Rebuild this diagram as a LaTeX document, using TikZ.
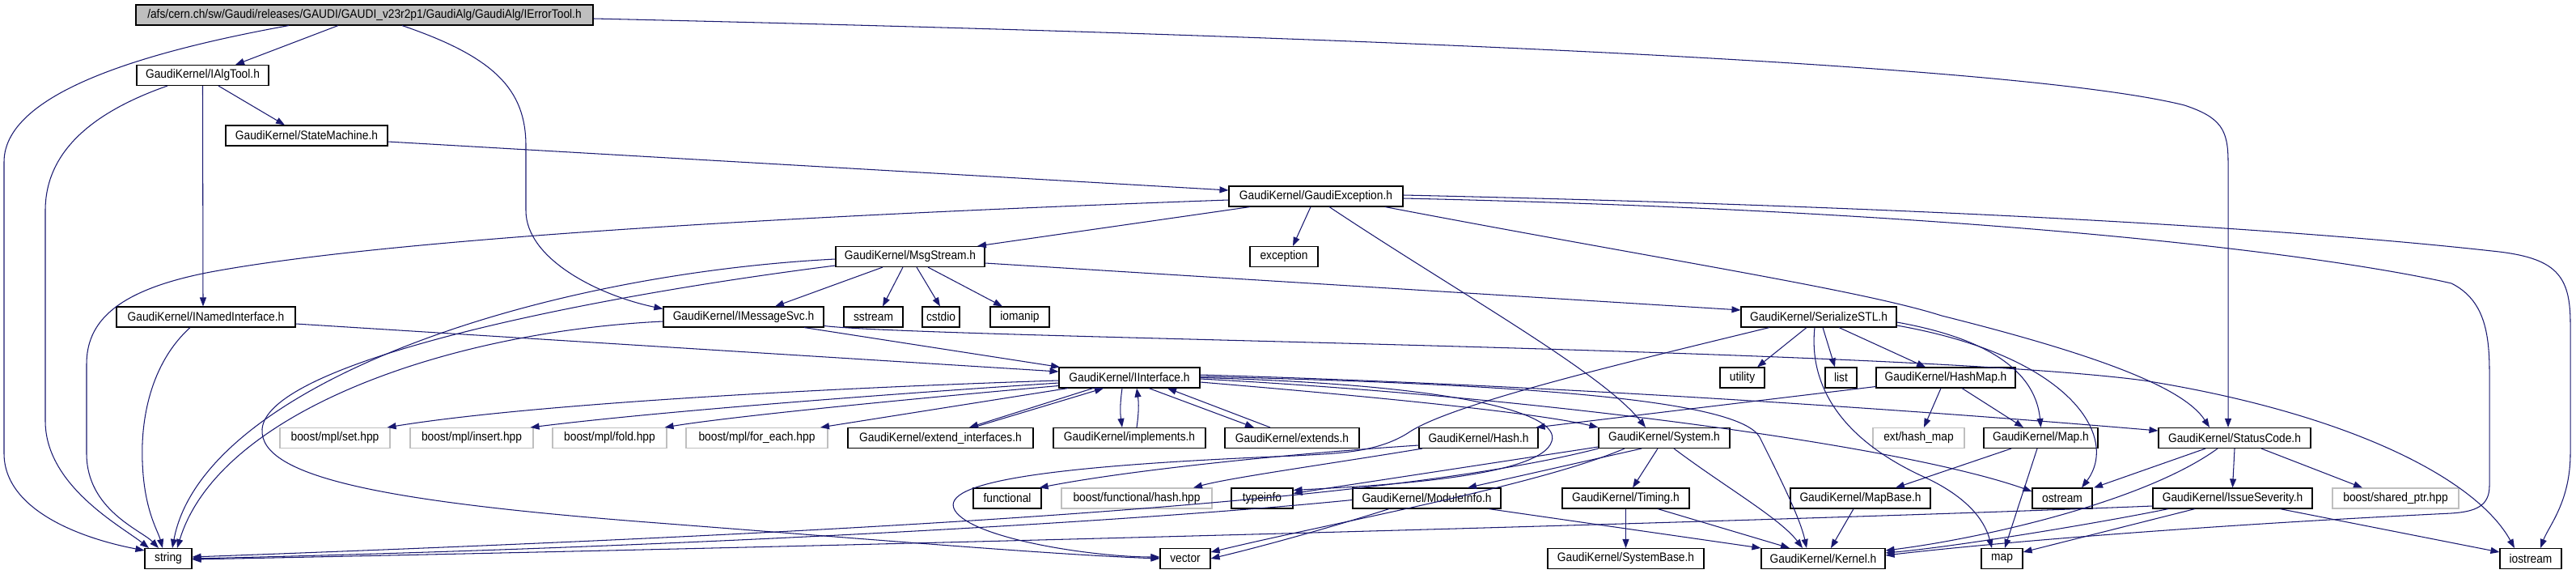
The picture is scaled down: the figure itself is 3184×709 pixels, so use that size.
\documentclass[tikz,border=0pt]{standalone}
\usepackage{fontspec}
\setmainfont{Liberation Sans}[FakeStretch=0.9]
\usetikzlibrary{arrows.meta}
\definecolor{edgeblue}{HTML}{191970}
\definecolor{lgray}{HTML}{BFBFBF}
\begin{document}
\begin{tikzpicture}[x=1pt,y=-1pt,
  nb/.style={draw=black, fill=white, line width=1.1pt, minimum height=25pt, inner sep=0pt, font=\fontsize{15.3}{18}\selectfont},
  gb/.style={nb, draw=lgray},
  rt/.style={nb, fill=lgray},
  edge/.style={draw=edgeblue, line width=1.05pt, -{Triangle[length=11pt,width=8pt]}}]
\useasboundingbox (0,0) rectangle (3184,709);
\fill[white] (0,0) rectangle (3184,709);
% nodes
\node[rt, minimum width=565pt] (root) at (450.5,18.5) {/afs/cern.ch/sw/Gaudi/releases/GAUDI/GAUDI\_v23r2p1/GaudiAlg/GaudiAlg/IErrorTool.h};
\node[nb, minimum width=163pt] (ialgtool) at (250.5,93) {GaudiKernel/IAlgTool.h};
\node[nb, minimum width=200pt] (statemachine) at (379,167.5) {GaudiKernel/StateMachine.h};
\node[nb, minimum width=215pt] (gexc) at (1626.5,242.5) {GaudiKernel/GaudiException.h};
\node[nb, minimum width=84pt] (exception) at (1587,317) {exception};
\node[nb, minimum width=184pt] (msgstream) at (1125,317) {GaudiKernel/MsgStream.h};
\node[nb, minimum width=221pt] (inamed) at (254.5,391.5) {GaudiKernel/INamedInterface.h};
\node[nb, minimum width=198pt] (imsgsvc) at (919,391.5) {GaudiKernel/IMessageSvc.h};
\node[nb, minimum width=73pt] (sstream) at (1079.5,391.5) {sstream};
\node[nb, minimum width=46pt] (cstdio) at (1163,391.5) {cstdio};
\node[nb, minimum width=73pt] (iomanip) at (1260.5,391.5) {iomanip};
\node[nb, minimum width=192pt] (serial) at (2248,391.5) {GaudiKernel/SerializeSTL.h};
\node[nb, minimum width=174pt] (iinterface) at (1396,466.5) {GaudiKernel/IInterface.h};
\node[nb, minimum width=55pt] (utility) at (2153.5,466.5) {utility};
\node[nb, minimum width=39pt] (list) at (2275.5,466.5) {list};
\node[nb, minimum width=172pt] (hashmap) at (2405,466.5) {GaudiKernel/HashMap.h};
\node[gb, minimum width=136pt] (mplset) at (414,541) {boost/mpl/set.hpp};
\node[gb, minimum width=152pt] (mplinsert) at (583,541) {boost/mpl/insert.hpp};
\node[gb, minimum width=141pt] (mplfold) at (753.5,541) {boost/mpl/fold.hpp};
\node[gb, minimum width=175pt] (mplforeach) at (935.5,541) {boost/mpl/for\_each.hpp};
\node[nb, minimum width=229pt] (extendif) at (1162.5,541) {GaudiKernel/extend\_interfaces.h};
\node[nb, minimum width=188pt] (implements) at (1396,541) {GaudiKernel/implements.h};
\node[nb, minimum width=166pt] (extends) at (1597,541) {GaudiKernel/extends.h};
\node[nb, minimum width=147pt] (hash) at (1827.5,541) {GaudiKernel/Hash.h};
\node[nb, minimum width=162pt] (system) at (2057,541) {GaudiKernel/System.h};
\node[gb, minimum width=113pt] (exthashmap) at (2371.5,541) {ext/hash\_map};
\node[nb, minimum width=141pt] (maph) at (2522.5,541) {GaudiKernel/Map.h};
\node[nb, minimum width=188pt] (statuscode) at (2762,541) {GaudiKernel/StatusCode.h};
\node[nb, minimum width=84pt] (functional) at (1245,615.5) {functional};
\node[gb, minimum width=186pt] (bfhash) at (1405,615.5) {boost/functional/hash.hpp};
\node[nb, minimum width=76pt] (typeinfo) at (1560,615.5) {typeinfo};
\node[nb, minimum width=183pt] (moduleinfo) at (1763.5,615.5) {GaudiKernel/ModuleInfo.h};
\node[nb, minimum width=157pt] (timing) at (2009.5,615.5) {GaudiKernel/Timing.h};
\node[nb, minimum width=173pt] (mapbase) at (2299.5,615.5) {GaudiKernel/MapBase.h};
\node[nb, minimum width=74pt] (ostream) at (2549,615.5) {ostream};
\node[nb, minimum width=197pt] (issue) at (2759.5,615.5) {GaudiKernel/IssueSeverity.h};
\node[gb, minimum width=156pt] (sharedptr) at (2961,615.5) {boost/shared\_ptr.hpp};
\node[nb, minimum width=58pt] (string) at (208,690) {string};
\node[nb, minimum width=62pt] (vector) at (1465,690) {vector};
\node[nb, minimum width=193pt] (systembase) at (2009.5,690) {GaudiKernel/SystemBase.h};
\node[nb, minimum width=153pt] (kernel) at (2253.5,690) {GaudiKernel/Kernel.h};
\node[nb, minimum width=51pt] (map) at (2474.5,690) {map};
\node[nb, minimum width=76pt] (iostream) at (3128,690) {iostream};
% edges from root
\draw[edge] ([xshift=-93.5pt]root.south) .. controls (200,60) and (5,110) .. (5,200) -- (5,560) .. controls (5,630) and (100,665) .. ([yshift=-3pt]string.north west);
\draw[edge] ([xshift=-32.5pt]root.south) -- ([xshift=40.5pt]ialgtool.north);
\draw[edge] ([xshift=46.5pt]root.south) .. controls (610,70) and (650,110) .. (650,180) -- (650,260) .. controls (650,320) and (740,365) .. ([yshift=10pt]imsgsvc.west);
\draw[edge] ([yshift=-4.5pt]root.east) .. controls (1700,45) and (2500,80) .. (2700,130) .. controls (2745,145) and (2754,160) .. (2754,200) -- ([xshift=-8pt]statuscode.north);
% IAlgTool
\draw[edge] ([xshift=-43.5pt]ialgtool.south) .. controls (110,140) and (56,190) .. (56,260) -- (56,520) .. controls (56,600) and (150,650) .. ([xshift=-24pt]string.north);
\draw[edge] (ialgtool.south) -- ([xshift=-3.5pt]inamed.north);
\draw[edge] ([xshift=19.5pt]ialgtool.south) -- ([xshift=-27pt]statemachine.north);
% StateMachine
\draw[edge] ([yshift=-7.5pt]statemachine.east) -- ([yshift=7.5pt]gexc.west);
% GaudiException
\draw[edge] ([yshift=-4.5pt]gexc.west) .. controls (1100,262) and (500,290) .. (255,337) .. controls (140,360) and (107,400) .. (107,450) -- (107,560) .. controls (107,630) and (175,655) .. ([xshift=-12pt]string.north);
\draw[edge] ([xshift=-81.5pt]gexc.south) -- ([xshift=83pt]msgstream.north);
\draw[edge] ([xshift=-6.5pt]gexc.south) -- ([xshift=11pt]exception.north);
\draw[edge] ([xshift=16.5pt]gexc.south) .. controls (1800,360) and (1980,460) .. ([xshift=-23pt]system.north);
\draw[edge] ([xshift=85.5pt]gexc.south) .. controls (2050,320) and (2300,358) .. (2400,390) .. controls (2600,440) and (2700,480) .. ([xshift=-31pt]statuscode.north);
\draw[edge] ([yshift=1.5pt]gexc.east) .. controls (2500,258) and (2900,290) .. (3080,310) .. controls (3160,318) and (3177,340) .. (3177,400) -- (3177,560) .. controls (3177,620) and (3150,650) .. ([xshift=12pt]iostream.north);
\draw[edge] ([yshift=-2.5pt]gexc.east) .. controls (2500,262) and (2900,320) .. (3030,350) .. controls (3070,370) and (3077,410) .. (3077,460) -- (3077,600) .. controls (3077,625) and (3060,632) .. (3030,634) .. controls (2700,650) and (2450,672) .. ([yshift=4pt]kernel.east);
% MsgStream
\draw[edge] ([xshift=-34pt]msgstream.south) -- ([xshift=39pt]imsgsvc.north);
\draw[edge] ([xshift=-9pt]msgstream.south) -- ([xshift=11.5pt]sstream.north);
\draw[edge] ([xshift=8pt]msgstream.south) -- ([xshift=-1pt]cstdio.north);
\draw[edge] ([xshift=22pt]msgstream.south) -- ([xshift=-21.5pt]iomanip.north);
\draw[edge] ([yshift=-8pt]msgstream.east) -- ([yshift=8.5pt]serial.west);
\draw[edge] ([yshift=-3pt]msgstream.west) .. controls (650,340) and (250,480) .. ([xshift=5pt]string.north);
\draw[edge] ([yshift=-11pt]msgstream.west) .. controls (700,370) and (330,450) .. (324,530) .. controls (320,590) and (480,620) .. (800,645) .. controls (1100,668) and (1300,685) .. (vector.west);
% IMessageSvc
\draw[edge] ([yshift=-5.5pt]imsgsvc.west) .. controls (550,410) and (270,510) .. ([xshift=11pt]string.north);
\draw[edge] ([xshift=75pt]imsgsvc.south) -- ([xshift=-86pt]iinterface.north);
\draw[edge] ([yshift=-11pt]imsgsvc.east) .. controls (1150,418) and (2350,430) .. (2650,470) .. controls (2900,510) and (3060,590) .. ([xshift=-20pt]iostream.north);
% INamedInterface
\draw[edge] ([yshift=-8.5pt]inamed.east) -- ([yshift=7.5pt]iinterface.west);
\draw[edge] ([xshift=-19.5pt]inamed.south) .. controls (185,450) and (174,520) .. (176,570) .. controls (178,630) and (195,655) .. ([xshift=-7pt]string.north);
% IInterface
\draw[edge] ([yshift=-3.5pt]iinterface.west) .. controls (1000,480) and (650,500) .. ([xshift=-4pt]mplset.north east);
\draw[edge] ([yshift=-6.5pt]iinterface.west) .. controls (1050,490) and (800,510) .. ([xshift=-4pt]mplinsert.north east);
\draw[edge] ([yshift=-10pt]iinterface.west) .. controls (1100,495) and (900,515) .. ([xshift=-3pt]mplfold.north east);
\draw[edge] ([xshift=-76pt]iinterface.south) -- ([xshift=78.5pt]mplforeach.north);
\draw[edge] ([xshift=-45pt]iinterface.south) -- ([xshift=35.5pt]extendif.north);
\draw[edge] ([xshift=40.5pt]extendif.north) -- ([xshift=-32pt]iinterface.south);
\draw[edge] ([xshift=-9pt]iinterface.south) to[bend right=8] ([xshift=-9pt]implements.north);
\draw[edge] ([xshift=9pt]implements.north) to[bend right=8] ([xshift=9pt]iinterface.south);
\draw[edge] ([xshift=24pt]iinterface.south) -- ([xshift=-47pt]extends.north);
\draw[edge] ([xshift=-27pt]extends.north) -- ([xshift=47pt]iinterface.south);
\draw[edge] ([yshift=-5.5pt]iinterface.east) .. controls (1700,490) and (1900,510) .. (system.north west);
\draw[edge] ([yshift=1.5pt]iinterface.east) .. controls (1900,475) and (2150,495) .. (2175,540) .. controls (2200,590) and (2225,640) .. ([xshift=-20.5pt]kernel.north);
\draw[edge] ([yshift=3.5pt]iinterface.east) .. controls (1900,475) and (2350,505) .. ([yshift=9pt]statuscode.west);
\draw[edge] ([yshift=-1.5pt]iinterface.east) .. controls (1900,490) and (2350,550) .. ([yshift=8.5pt]ostream.west);
\draw[edge] (iinterface.east) .. controls (1800,475) and (1930,510) .. (1918,545) .. controls (1905,590) and (1700,600) .. ([yshift=10pt]typeinfo.east);
% SerializeSTL
\draw[edge] ([xshift=-15pt]serial.south) -- ([xshift=18.5pt]utility.north);
\draw[edge] ([xshift=5pt]serial.south) -- ([xshift=-7.5pt]list.north);
\draw[edge] ([xshift=25pt]serial.south) -- ([xshift=-25pt]hashmap.north);
\draw[edge] ([xshift=-5pt]serial.south) .. controls (2235,480) and (2280,545) .. (2380,590) .. controls (2440,618) and (2455,650) .. ([xshift=-12.5pt]map.north);
\draw[edge] ([xshift=-61pt]serial.south) .. controls (2000,450) and (1790,500) .. (1740,535) .. controls (1700,560) and (1650,560) .. (1600,563) .. controls (1300,575) and (1160,595) .. (1180,630) .. controls (1200,665) and (1350,688) .. ([yshift=2pt]vector.west);
\draw[edge] ([yshift=-6.5pt]serial.east) .. controls (2440,415) and (2515,450) .. (maph.north);
\draw[edge] ([yshift=-10.5pt]serial.east) .. controls (2560,440) and (2620,540) .. ([xshift=24pt]ostream.north);
% HashMap
\draw[edge] ([yshift=-11pt]hashmap.west) -- ([xshift=-3pt]hash.north east);
\draw[edge] ([xshift=-6pt]hashmap.south) -- ([xshift=6.5pt]exthashmap.north);
\draw[edge] ([xshift=20pt]hashmap.south) -- ([xshift=-21.5pt]maph.north);
% Hash
\draw[edge] ([yshift=-9pt]hash.west) .. controls (1600,560) and (1400,580) .. ([xshift=-3pt]functional.north east);
\draw[edge] ([xshift=-69.5pt]hash.south) .. controls (1650,572) and (1520,590) .. ([xshift=70pt]bfhash.north);
% System
\draw[edge] ([yshift=-11pt]system.west) -- ([yshift=6pt]typeinfo.east);
\draw[edge] (system.south west) .. controls (1700,625) and (1000,660) .. ([yshift=2pt]string.east);
\draw[edge] ([xshift=-49pt]system.south) .. controls (1900,600) and (1650,645) .. ([yshift=8pt]vector.east);
\draw[edge] ([xshift=-28pt]system.south) -- ([xshift=50.5pt]moduleinfo.north);
\draw[edge] ([xshift=-8pt]system.south) -- ([xshift=8.5pt]timing.north);
\draw[edge] ([xshift=12pt]system.south) .. controls (2130,600) and (2200,640) .. ([xshift=-25.5pt]kernel.north);
% ModuleInfo
\draw[edge] ([yshift=-2pt]moduleinfo.west) .. controls (1450,640) and (900,675) .. (string.east);
\draw[edge] ([xshift=-46.5pt]moduleinfo.south) .. controls (1650,650) and (1560,675) .. (vector.east);
\draw[edge] ([xshift=76.5pt]moduleinfo.south) -- (kernel.north west);
% Timing
\draw[edge] (timing.south) -- (systembase.north);
\draw[edge] ([xshift=39.5pt]timing.south) -- ([xshift=-41.5pt]kernel.north);
% MapBase, Map
\draw[edge] ([xshift=-8.5pt]mapbase.south) -- ([xshift=9.5pt]kernel.north);
\draw[edge] ([xshift=-36.5pt]maph.south) -- ([xshift=43.5pt]mapbase.north);
\draw[edge] ([xshift=-4.5pt]maph.south) -- ([xshift=3.5pt]map.north);
% StatusCode
\draw[edge] ([xshift=-36pt]statuscode.south) -- ([xshift=39pt]ostream.north);
\draw[edge] ([xshift=-21pt]statuscode.south) .. controls (2650,620) and (2450,665) .. ([yshift=10pt]kernel.east);
\draw[edge] (statuscode.south) -- (issue.north);
\draw[edge] ([xshift=33pt]statuscode.south) -- ([xshift=-41pt]sharedptr.north);
% IssueSeverity
\draw[edge] ([yshift=-9.5pt]issue.west) .. controls (2300,640) and (1200,672) .. ([yshift=-1pt]string.east);
\draw[edge] ([xshift=-79.5pt]issue.south) .. controls (2600,645) and (2420,675) .. ([yshift=7pt]kernel.east);
\draw[edge] ([xshift=-46.5pt]issue.south) -- ([yshift=8pt]map.east);
\draw[edge] ([xshift=58.5pt]issue.south) -- ([yshift=8pt]iostream.west);
\end{tikzpicture}
\end{document}
